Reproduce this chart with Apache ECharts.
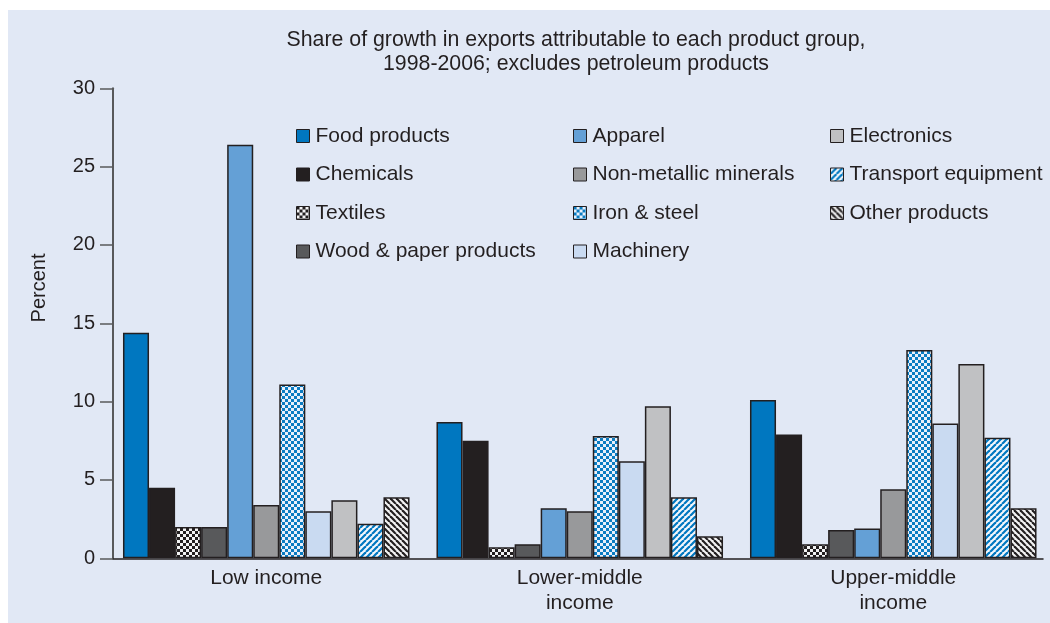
<!DOCTYPE html>
<html>
<head>
<meta charset="utf-8">
<script src="https://cdn.jsdelivr.net/npm/echarts@6/dist/echarts.min.js"></script>
<style>
html,body{margin:0;padding:0;background:#ffffff;}
#panel{position:absolute;left:8px;top:10px;width:1042px;height:613px;background:#e1e8f5;}
#chart{position:absolute;left:0;top:0;width:1050px;height:623px;}
</style>
</head>
<body>
<div id="panel"></div>
<div id="chart"></div>
<script>
// ---- data ----
const categories = ['Low income', 'Lower-middle\nincome', 'Upper-middle\nincome'];
const seriesNames = ['Food products', 'Chemicals', 'Textiles', 'Wood & paper products',
  'Apparel', 'Non-metallic minerals', 'Iron & steel', 'Machinery',
  'Electronics', 'Transport equipment', 'Other products'];
const food = [14.4, 8.7, 10.1];
const chemicals = [4.5, 7.5, 7.9];
const textiles = [2.0, 0.7, 0.9];
const wood = [2.0, 0.9, 1.8];
const apparel = [26.4, 3.2, 1.9];
const nonMetallic = [3.4, 3.0, 4.4];
const ironSteel = [11.1, 7.8, 13.3];
const machinery = [3.0, 6.2, 8.6];
const electronics = [3.7, 9.7, 12.4];
const transport = [2.2, 3.9, 7.7];
const other = [3.9, 1.4, 3.2];
const yTicks = [0, 5, 10, 15, 20, 25, 30];

// ---- patterns ----
function checker(c1, c2, cell) {
  const cv = document.createElement('canvas');
  cv.width = cell * 2; cv.height = cell * 2;
  const ctx = cv.getContext('2d');
  ctx.fillStyle = c2; ctx.fillRect(0, 0, cell * 2, cell * 2);
  ctx.fillStyle = c1;
  ctx.fillRect(0, 0, cell, cell);
  ctx.fillRect(cell, cell, cell, cell);
  return cv;
}
function stripes(c1, c2, s, lw, forward) {
  const cv = document.createElement('canvas');
  cv.width = s; cv.height = s;
  const ctx = cv.getContext('2d');
  ctx.fillStyle = c2; ctx.fillRect(0, 0, s, s);
  ctx.strokeStyle = c1; ctx.lineWidth = lw;
  for (let k = -1; k <= 1; k++) {
    ctx.beginPath();
    if (forward) { ctx.moveTo(k * s, s); ctx.lineTo(k * s + s, 0); }
    else { ctx.moveTo(k * s, 0); ctx.lineTo(k * s + s, s); }
    ctx.stroke();
  }
  return cv;
}
const pat = (cv) => ({ image: cv, repeat: 'repeat' });

const fills = [
  '#0077c0',
  '#231f20',
  pat(checker('#231f20', '#f4f4f4', 3)),
  '#58595b',
  '#64a0d6',
  '#98999b',
  pat(checker('#0a7cc2', '#e9f0fa', 3)),
  '#c9daf1',
  '#c0c1c3',
  pat(stripes('#0077c0', '#f4f7fc', 6, 2.2, true)),
  pat(stripes('#231f20', '#f4f4f4', 6, 2.2, false))
];
const values = [food, chemicals, textiles, wood, apparel, nonMetallic, ironSteel, machinery, electronics, transport, other];

const FONT = '"Liberation Sans", Arial, Helvetica, sans-serif';
const TXT = '#231f20';

const series = seriesNames.map((n, i) => ({
  name: n,
  type: 'bar',
  xAxisIndex: 0,
  yAxisIndex: 0,
  data: values[i],
  barGap: '0%',
  barCategoryGap: '8.6%',
  itemStyle: { color: fills[i], borderColor: '#231f20', borderWidth: 1.5 },
  emphasis: { disabled: true },
  animation: false
}));

function legendCol(names, left) {
  return {
    data: names,
    orient: 'vertical',
    left: left,
    top: 125,
    padding: 0,
    itemWidth: 13,
    itemHeight: 13,
    itemGap: 16.5,
    selectedMode: false,
    icon: 'rect',
    itemStyle: { borderColor: '#231f20', borderWidth: 1 },
    textStyle: { fontFamily: FONT, fontSize: 21, color: TXT, lineHeight: 22, padding: [0, 0, 0, 1] }
  };
}

const chart = echarts.init(document.getElementById('chart'), null, { renderer: 'canvas' });
chart.setOption({
  backgroundColor: 'transparent',
  animation: false,
  title: {
    text: 'Share of growth in exports attributable to each product group,\n1998-2006; excludes petroleum products',
    left: 576,
    top: 28,
    padding: 0,
    textAlign: 'center',
    textStyle: { fontFamily: FONT, fontSize: 21.3, fontWeight: 'normal', color: TXT, lineHeight: 24 }
  },
  legend: [
    legendCol(seriesNames.slice(0, 4), 296),
    legendCol(seriesNames.slice(4, 8), 573),
    legendCol(seriesNames.slice(8, 11), 830)
  ],
  graphic: [{
    type: 'text',
    x: 39, y: 288,
    rotation: Math.PI / 2,
    style: { text: 'Percent', font: '20px ' + FONT, fill: TXT, align: 'center', verticalAlign: 'middle' }
  }],
  grid: [
    { left: 109.5, right: -1.5, top: 88.3, bottom: 64.7 },
    { left: 113, right: 7, top: 88.3, bottom: 64.7 }
  ],
  xAxis: [
    {
      type: 'category', gridIndex: 0, data: categories,
      axisLine: { show: false }, axisTick: { show: false },
      axisLabel: { fontFamily: FONT, fontSize: 21, color: TXT, lineHeight: 25, margin: 7 }
    },
    {
      type: 'category', gridIndex: 1, data: categories,
      axisLine: { show: true, lineStyle: { color: '#231f20', width: 1.5 } },
      axisTick: { show: false }, axisLabel: { show: false }
    }
  ],
  yAxis: [
    { type: 'value', gridIndex: 0, min: 0, max: 30, show: false, splitLine: { show: false } },
    {
      type: 'value', gridIndex: 1, min: yTicks[0], max: yTicks[yTicks.length - 1], interval: 5,
      axisLine: { show: true, lineStyle: { color: '#58595b', width: 2 } },
      axisTick: { show: true, inside: false, length: 13, lineStyle: { color: '#58595b', width: 1.5 } },
      axisLabel: { fontFamily: FONT, fontSize: 20, color: TXT, margin: 18 },
      splitLine: { show: false }
    }
  ],
  series: series
});
</script>
</body>
</html>
